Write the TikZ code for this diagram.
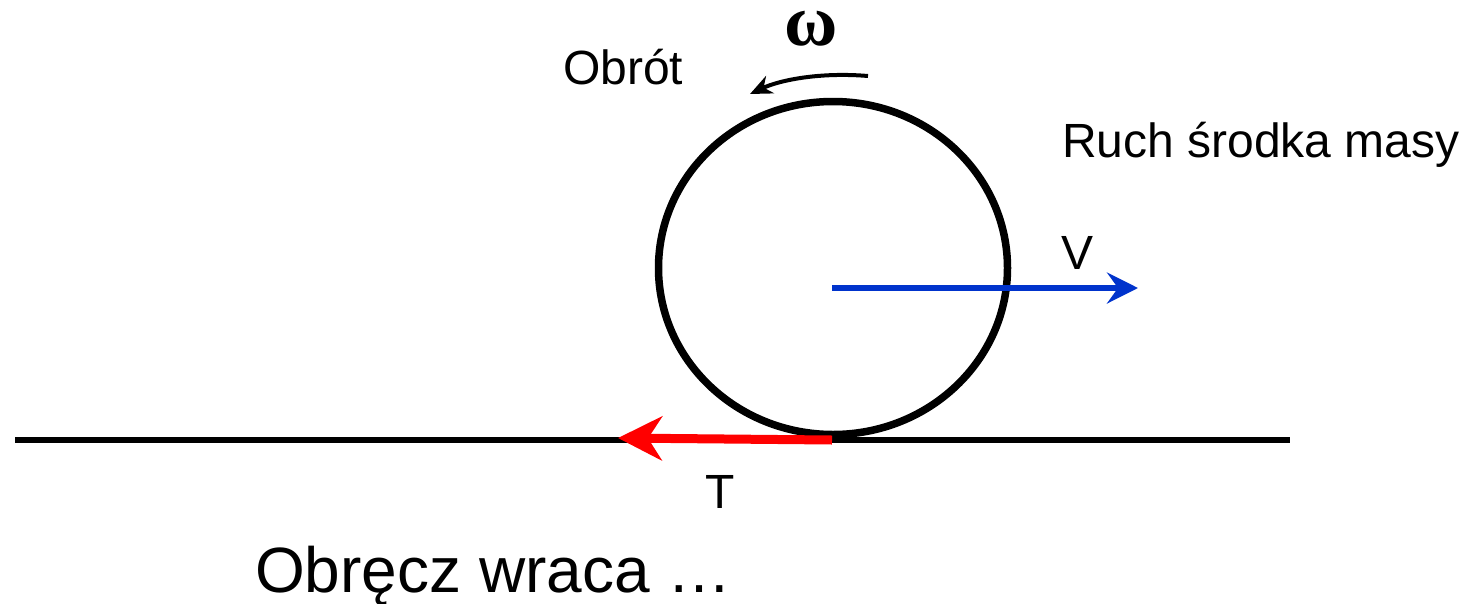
\documentclass[tikz,border=0pt]{standalone}
\usepackage{fontspec}
\setmainfont{Liberation Sans}
\newfontfamily\greekserif{Liberation Serif}
\usetikzlibrary{arrows.meta,shapes.geometric}
\definecolor{vblue}{RGB}{0,51,204}
\definecolor{tred}{RGB}{255,0,0}
\tikzset{
  lbl/.style={inner sep=0pt, font=\fontsize{48}{48}\selectfont},
  hoop/.style={draw=black, line width=7.5pt, ellipse, inner sep=0pt, minimum width=349pt, minimum height=333pt},
  groundline/.style={draw=black, line width=6.5pt},
  tarrow/.style={draw=tred, line width=9pt, -{Stealth[length=44pt,width=44pt,inset=14pt]}},
  varrow/.style={draw=vblue, line width=6.5pt, -{Stealth[length=31pt,width=31pt,inset=11pt]}},
  rotarrow/.style={draw=black, line width=4pt, -{Stealth[length=22pt,width=19pt,inset=7pt]}}
}
\begin{document}
\begin{tikzpicture}[x=1pt,y=-1pt]
\useasboundingbox (0,0) rectangle (1470,603);
\coordinate (gl) at (15,440);
\coordinate (gr) at (1290,440);
\draw[groundline] (gl) -- (gr);
\node[hoop] (hoop) at (833,268) {};
\coordinate (ctr) at (832,288);
\coordinate (vtip) at (1138,288);
\coordinate (cp) at (832,440);
\coordinate (ttip) at (618,438);
\draw[varrow] (ctr) -- (vtip);
\draw[tarrow] (cp) -- (ttip);
\coordinate (rs) at (868,76);
\coordinate (re) at (750,94);
\draw[rotarrow] (rs) .. controls (820,72) and (780,80) .. (re);
\node[lbl, anchor=base west] (obrot) at (563,84) {Obrót};
\node[inner sep=0pt, font=\greekserif\bfseries\fontsize{73}{73}\selectfont] (omega) at (811,29) {ω};
\node[lbl, anchor=base west] (ruch) at (1062,157) {Ruch środka masy};
\node[lbl] (v) at (1077,253) {V};
\node[lbl] (t) at (720,492) {T};
\node[inner sep=0pt, anchor=base west, font=\fontsize{64}{64}\selectfont] (obrecz) at (255,592) {Obręcz wraca …};
\end{tikzpicture}
\end{document}
